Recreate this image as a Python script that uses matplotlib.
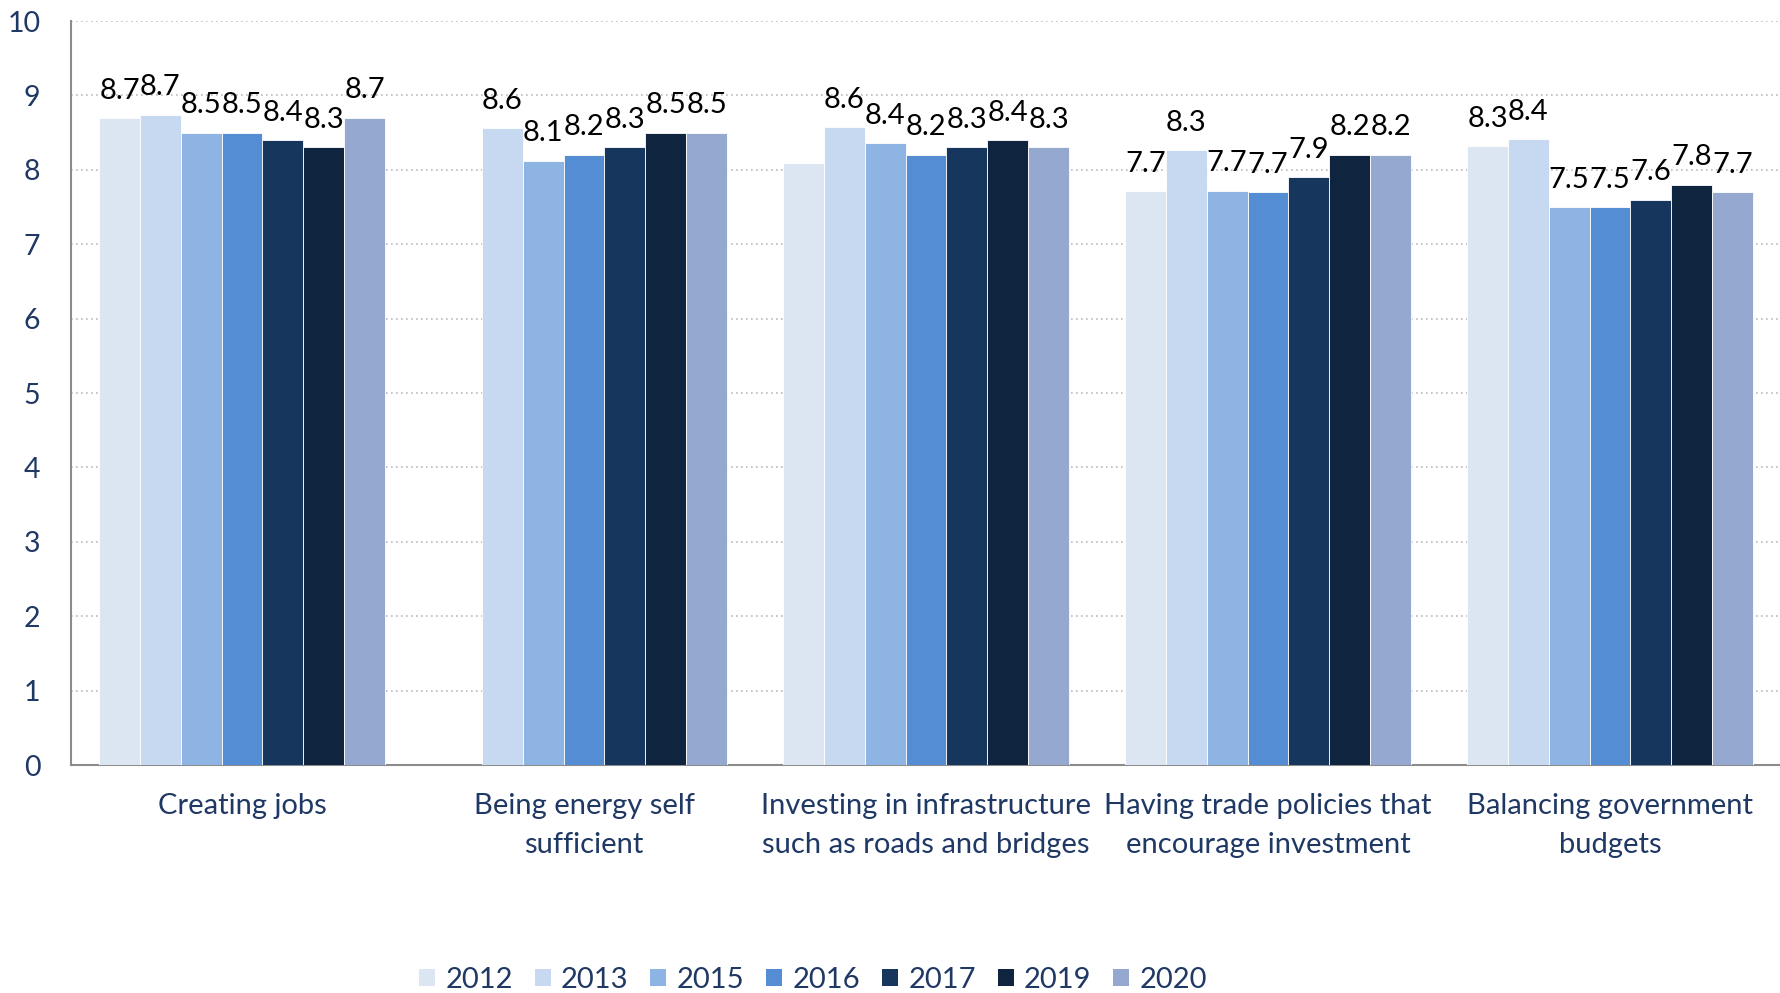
import numpy as np
import matplotlib
matplotlib.use("Agg")
import matplotlib.pyplot as plt
from matplotlib.patches import Patch

categories = ["Creating jobs", "Being energy self\nsufficient",
              "Investing in infrastructure\nsuch as roads and bridges",
              "Having trade policies that\nencourage investment",
              "Balancing government\nbudgets"]
years = ["2012", "2013", "2015", "2016", "2017", "2019", "2020"]
v2012 = [8.69, np.nan, 8.09, 7.71, 8.32]
v2013 = [8.74, 8.56, 8.57, 8.26, 8.41]
v2015 = [8.50, 8.12, 8.36, 7.72, 7.50]
v2016 = [8.50, 8.20, 8.20, 7.70, 7.50]
v2017 = [8.40, 8.30, 8.30, 7.90, 7.60]
v2019 = [8.30, 8.50, 8.40, 8.20, 7.80]
v2020 = [8.70, 8.50, 8.30, 8.20, 7.70]
series = [v2012, v2013, v2015, v2016, v2017, v2019, v2020]
# data labels missing in the original chart
hidden_labels = [("2012", 2)]
yticks = list(range(0, 11))

colors = ["#DCE5F2", "#C6D9F1", "#8EB4E3", "#548DD4", "#17365D", "#0F243E", "#95A8CF"]
txt_blue = "#1F3864"
FONT = ["Lato", "DejaVu Sans"]
plt.rcParams['font.family'] = FONT

fig = plt.figure(figsize=(17.81, 9.93), dpi=100)
ax = fig.add_axes([71/1781, 228/993, 1 - 71/1781, 744/993])

n = len(series)
group = 0.836
w = group / n
x = np.arange(len(categories))
for i, (vals, c, yr) in enumerate(zip(series, colors, years)):
    pos = x - group/2 + w*(i + 0.5)
    ax.bar(pos, vals, width=w, color=c, edgecolor="white", linewidth=0.6, zorder=3)
    for j, (p, v) in enumerate(zip(pos, vals)):
        if np.isnan(v) or (yr, j) in hidden_labels:
            continue
        ax.annotate(f"{v:.1f}", (p, v), xytext=(0, 14), textcoords="offset points",
                    ha="center", va="baseline", fontsize=21, color="black", zorder=4)

ax.set_xlim(-0.5, len(categories) - 0.5)
ax.set_ylim(0, 10)
ax.set_yticks(yticks)
ax.set_yticklabels([str(t) for t in yticks], fontsize=20.5, color=txt_blue)
ax.set_xticks(x)
ax.set_xticklabels(categories, fontsize=21, color=txt_blue, linespacing=1.65)
ax.tick_params(axis="both", length=0)
ax.tick_params(axis="y", pad=22)
ax.tick_params(axis="x", pad=20)
ax.grid(axis="y", linestyle=(0, (1, 2)), color="#BBBBBB", linewidth=1.2, zorder=0)
for s in ["top", "right"]:
    ax.spines[s].set_visible(False)
for s in ["left", "bottom"]:
    ax.spines[s].set_color("#8C8C8C")
    ax.spines[s].set_linewidth(1.5)

handles = [Patch(facecolor=c, edgecolor="none") for c in colors]
leg = fig.legend(handles, years, loc="center", bbox_to_anchor=(813/1781, 1 - 980/993),
                 ncol=n, frameon=False, fontsize=21, handlelength=0.55, handleheight=0.55,
                 handletextpad=0.35, columnspacing=0.75)
for t in leg.get_texts():
    t.set_color(txt_blue)

fig.savefig("out.png", dpi=100)
